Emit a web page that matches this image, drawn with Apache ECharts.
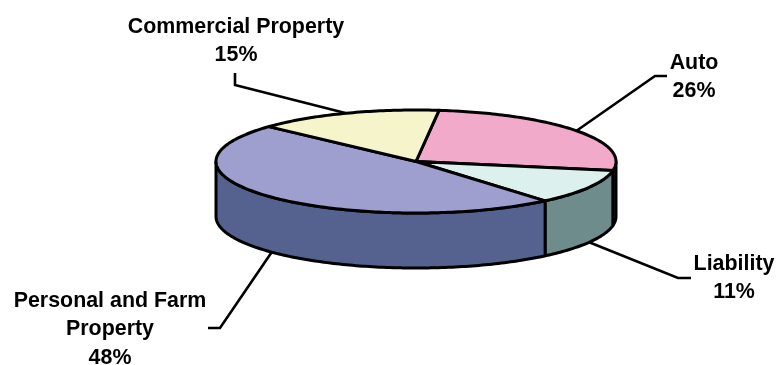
<!DOCTYPE html>
<html>
<head>
<meta charset="utf-8">
<style>html,body{margin:0;padding:0;background:#fff}#chart{width:780px;height:365px}</style>
<script src="https://cdn.jsdelivr.net/npm/echarts@6/dist/echarts.min.js"></script>
</head>
<body>
<div id="chart"></div>
<script>
// Slices run clockwise from the first boundary angle.
const categories = ['Auto', 'Liability', 'Personal and Farm\nProperty', 'Commercial Property'];
const shares = [26, 11, 48, 15];
const topColors = ['#F2AACB', '#DCF0EE', '#9F9FCF', '#F6F4CA'];
const wallColors = ['#7A5068', '#6E8C8C', '#55628F', '#7B7A65'];
// Leader elbow and end, and label centre with its first line's middle.
const leaderElbows = [[655, 76], [678, 278], [220, 328], [235, 85]];
const leaderEnds = [[667, 76], [691, 278], [208, 328], [235, 73]];
const labelCentres = [[694, 63], [734, 264], [110, 301], [236, 27]];

const pie = { cx: 416, cy: 161.5, rx: 200, ry: 51.5, depth: 55, start: 6.6 };
const LINE = 28.5;
const total = shares.reduce((a, b) => a + b, 0);

const rad = d => d * Math.PI / 180;
const rimPoint = (deg, drop) => [
  pie.cx + pie.rx * Math.sin(rad(deg)),
  pie.cy - pie.ry * Math.cos(rad(deg)) + (drop || 0)
];
const arc = (a, b, drop) => {
  const pts = [];
  const n = Math.max(2, Math.ceil(Math.abs(b - a)));
  for (let i = 0; i <= n; i++) pts.push(rimPoint(a + (b - a) * i / n, drop));
  return pts;
};
// Boundary angles of a slice, from the cumulative shares.
const sliceAngles = i => {
  const before = shares.slice(0, i).reduce((a, b) => a + b, 0);
  return [pie.start + before / total * 360, pie.start + (before + shares[i]) / total * 360];
};
const seriesData = shares.map((v, i) => ({ name: categories[i], value: v }));
const ink = { stroke: '#000', lineWidth: 3, lineJoin: 'round' };

function leaderItem(params) {
  const i = params.dataIndex;
  const [a, b] = sliceAngles(i);
  const mid = (a + b) / 2;
  const onFront = mid > 90 && mid < 270;
  return {
    type: 'polyline',
    shape: { points: [rimPoint(mid, onFront ? pie.depth : 0), leaderElbows[i], leaderEnds[i]] },
    style: { fill: 'none', stroke: '#000', lineWidth: 2.6, lineJoin: 'miter' }
  };
}

function wallItem(params) {
  const [a, b] = sliceAngles(params.dataIndex);
  const from = Math.max(a, 90), to = Math.min(b, 270);
  if (from >= to) return { type: 'group', children: [] };
  return {
    type: 'polygon',
    shape: { points: arc(from, to, 0).concat(arc(to, from, pie.depth)) },
    style: Object.assign({ fill: wallColors[params.dataIndex] }, ink)
  };
}

function topItem(params) {
  const [a, b] = sliceAngles(params.dataIndex);
  return {
    type: 'polygon',
    shape: { points: [[pie.cx, pie.cy]].concat(arc(a, b, 0)) },
    style: Object.assign({ fill: topColors[params.dataIndex] }, ink)
  };
}

function labelItem(params) {
  const i = params.dataIndex;
  const lines = categories[i].split('\n').concat(shares[i] + '%');
  return {
    type: 'group',
    children: lines.map((t, k) => ({
      type: 'text',
      x: labelCentres[i][0],
      y: labelCentres[i][1] + k * LINE,
      style: {
        text: t, fill: '#000', align: 'center', verticalAlign: 'middle',
        font: 'bold 21.4px "Liberation Sans", Arial, sans-serif'
      }
    }))
  };
}

const layer = (renderItem, z) => ({
  type: 'custom', coordinateSystem: 'none', data: seriesData,
  renderItem, z, silent: true, animation: false
});

echarts.init(document.getElementById('chart'), null, { renderer: 'canvas' }).setOption({
  backgroundColor: '#fff',
  animation: false,
  series: [layer(leaderItem, 1), layer(wallItem, 2), layer(topItem, 3), layer(labelItem, 4)]
});
</script>
</body>
</html>
